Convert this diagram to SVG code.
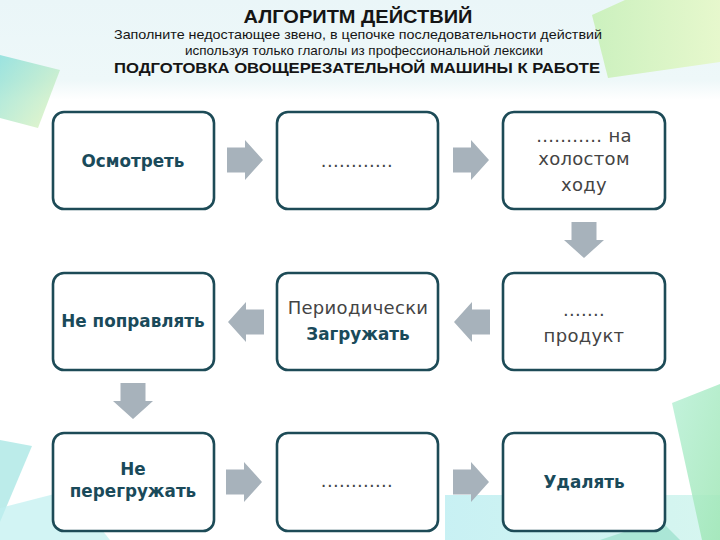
<svg xmlns="http://www.w3.org/2000/svg" width="720" height="540" viewBox="0 0 720 540">
<defs>
<style>
.box{fill:#ffffff;stroke:#1d4b57;stroke-width:2.6}
.arr{fill:#a7b2bb}
.h{font-family:"Liberation Sans",Arial,sans-serif;fill:#151515;text-anchor:middle}
.b{font-family:"DejaVu Sans","Noto Sans",sans-serif;font-weight:bold;font-size:16.8px;fill:#1a4a5a;text-anchor:middle}
.r{font-family:"DejaVu Sans","Noto Sans",sans-serif;font-size:18px;fill:#444444;text-anchor:middle;letter-spacing:0.3px}
</style>
<linearGradient id="top" x1="0" y1="0" x2="0" y2="1">
<stop offset="0" stop-color="#eaf6f8"/><stop offset="0.8" stop-color="#eef8f9"/><stop offset="1" stop-color="#ffffff"/>
</linearGradient>
<linearGradient id="tl" x1="0" y1="0" x2="1" y2="1">
<stop offset="0" stop-color="#7fdcd8"/><stop offset="1" stop-color="#e3f4b8"/>
</linearGradient>
<linearGradient id="gr" x1="0" y1="0" x2="1" y2="0">
<stop offset="0" stop-color="#c8f0b8"/><stop offset="1" stop-color="#e6f8c8"/>
</linearGradient>
<linearGradient id="cy" x1="0" y1="0" x2="1" y2="0">
<stop offset="0" stop-color="#b6ecf0"/><stop offset="1" stop-color="#c9f3ea"/>
</linearGradient>
<linearGradient id="br" x1="0" y1="0" x2="1" y2="1">
<stop offset="0" stop-color="#b8f0d6"/><stop offset="1" stop-color="#9ee6b4"/>
</linearGradient>
<path id="ar" d="M0,-12.5 H18 V-20 L36,0 L18,20 V12.5 H0 Z"/>
</defs>

<g id="background">
<rect x="0" y="0" width="720" height="540" fill="#ffffff"/>
<rect x="0" y="0" width="720" height="100" fill="url(#top)"/>
<polygon points="0,55 60,70 38,128 0,118" fill="url(#tl)" opacity="0.75"/>
<polygon points="592,15 625,0 720,0 720,62 608,78" fill="url(#gr)" opacity="0.9"/>
<polygon points="0,440 32,446 0,522" fill="#8fe0dc" opacity="0.6"/>
<polygon points="0,540 0,508 70,490 110,540" fill="#bfeff0" opacity="0.7"/>
<polygon points="445,495 720,495 720,540 445,540" fill="url(#cy)" opacity="0.75"/>
<polygon points="672,403 720,384 720,540 702,540" fill="url(#br)" opacity="0.85"/>
<polygon points="600,540 660,520 680,540" fill="#8fdcc4" opacity="0.6"/>
</g>

<g id="header">
<text class="h" x="358" y="23" font-size="18.5" font-weight="bold" textLength="229" lengthAdjust="spacingAndGlyphs">АЛГОРИТМ ДЕЙСТВИЙ</text>
<text class="h" x="358" y="39" font-size="13" textLength="488" lengthAdjust="spacingAndGlyphs">Заполните недостающее звено, в цепочке последовательности действий</text>
<text class="h" x="364" y="55" font-size="13" textLength="358" lengthAdjust="spacingAndGlyphs">используя только глаголы из профессиональной лексики</text>
<text class="h" x="357" y="73" font-size="14.5" font-weight="bold" textLength="486" lengthAdjust="spacingAndGlyphs">ПОДГОТОВКА  ОВОЩЕРЕЗАТЕЛЬНОЙ МАШИНЫ К РАБОТЕ</text>
</g>

<g id="connectors">
<use href="#ar" class="arr" transform="translate(227,160)"/>
<use href="#ar" class="arr" transform="translate(453,160)"/>
<use href="#ar" class="arr" transform="translate(584,222) rotate(90)"/>
<use href="#ar" class="arr" transform="translate(490,322) scale(-1,1)"/>
<use href="#ar" class="arr" transform="translate(264,322) scale(-1,1)"/>
<use href="#ar" class="arr" transform="translate(133,383) rotate(90)"/>
<use href="#ar" class="arr" transform="translate(226,482)"/>
<use href="#ar" class="arr" transform="translate(453,482)"/>
</g>

<g id="n1">
<rect class="box" x="53" y="112" width="161" height="97" rx="11"/>
<text class="b" x="133" y="167">Осмотреть</text>
</g>
<g id="n2">
<rect class="box" x="277" y="112" width="161" height="97" rx="11"/>
<text class="r" x="357" y="167">............</text>
</g>
<g id="n3">
<rect class="box" x="503" y="112" width="162" height="97" rx="11"/>
<text class="r" x="584" y="142">........... на</text>
<text class="r" x="584" y="165">холостом</text>
<text class="r" x="584" y="191">ходу</text>
</g>
<g id="n4">
<rect class="box" x="503" y="273" width="162" height="97" rx="11"/>
<text class="r" x="584" y="316">.......</text>
<text class="r" x="584" y="342">продукт</text>
</g>
<g id="n5">
<rect class="box" x="277" y="273" width="161" height="97" rx="11"/>
<text class="r" x="358" y="314">Периодически</text>
<text class="b" x="358" y="340">Загружать</text>
</g>
<g id="n6">
<rect class="box" x="53" y="273" width="161" height="97" rx="11"/>
<text class="b" x="133" y="327">Не поправлять</text>
</g>
<g id="n7">
<rect class="box" x="53" y="433" width="161" height="98" rx="11"/>
<text class="b" x="133" y="475">Не</text>
<text class="b" x="133" y="497">перегружать</text>
</g>
<g id="n8">
<rect class="box" x="277" y="433" width="161" height="98" rx="11"/>
<text class="r" x="357" y="487">............</text>
</g>
<g id="n9">
<rect class="box" x="503" y="433" width="162" height="98" rx="11"/>
<text class="b" x="584" y="488">Удалять</text>
</g>
</svg>
